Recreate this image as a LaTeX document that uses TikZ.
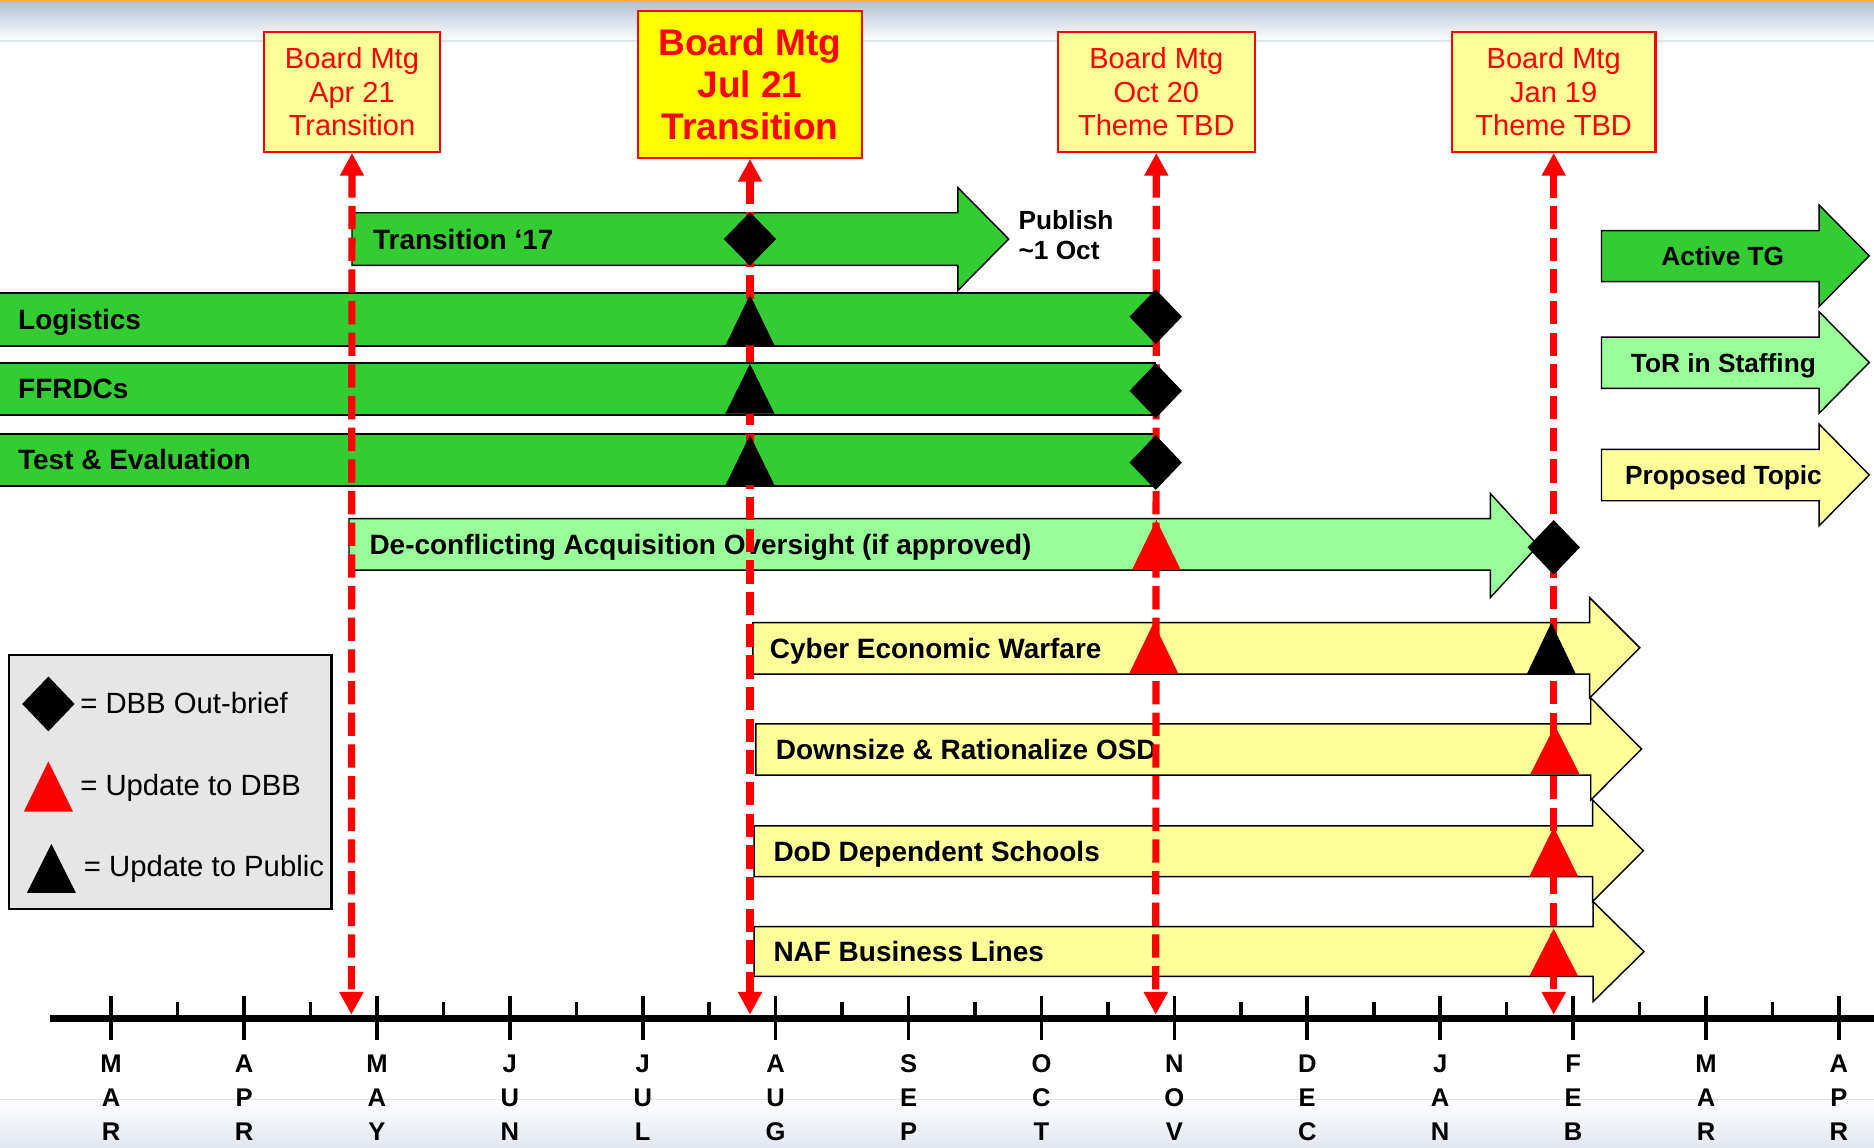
\documentclass[tikz,border=0pt]{standalone}
\usepackage{fontspec}
\setmainfont{Liberation Sans}
\usetikzlibrary{arrows.meta,shapes.geometric}
\definecolor{tgGreen}{HTML}{33CC33}
\definecolor{tgLight}{HTML}{99FF99}
\definecolor{tgYellow}{HTML}{FFFF99}
\definecolor{tgBright}{HTML}{FFFF00}
\definecolor{tgGray}{HTML}{E6E6E6}
\definecolor{tgOrange}{HTML}{F2B43C}
\definecolor{tgBand}{HTML}{B4C4D7}
\definecolor{tgLine}{HTML}{DCE6F0}
\definecolor{tgBot}{HTML}{E1E6F0}
% block arrow: fill, x left, x head back, x tip, y body top, y body bottom, y head top, y head bottom
\newcommand{\blockarrow}[8]{%
  \filldraw[fill=#1, draw=black, line width=1.2pt] (#2,#5) -- (#3,#5) -- (#3,#7) -- (#4,{(#7+#8)/2}) -- (#3,#8) -- (#3,#6) -- (#2,#6) -- cycle;}
% open-left bar: y top, x right, y bottom
\newcommand{\tgbar}[3]{%
  \fill[tgGreen] (0,#1) rectangle (#2,#3);
  \draw[line width=1.6pt] (0,#1) -- (#2,#1) -- (#2,#3) -- (0,#3);}
% triangle marker: colour, x centre, y apex, y base
\newcommand{\tgtri}[4]{%
  \fill[#1] ({#2-20.5},#4) -- (#2,#3) -- ({#2+20.5},#4) -- cycle;}
\tikzset{
  mtg/.style={draw=red, line width=2pt, fill=tgYellow, text=red, align=center, inner sep=0pt,
    font=\fontsize{24.3}{28}\selectfont},
  lbl/.style={anchor=west, inner sep=0pt, font=\fontsize{23.4}{28}\selectfont\bfseries,
    text height=16.75pt, text depth=0pt},
  lgl/.style={inner sep=0pt, font=\fontsize{22}{26}\selectfont\bfseries,
    text height=15.75pt, text depth=0pt},
  keytext/.style={anchor=west, inner sep=0pt, font=\fontsize{24.5}{28}\selectfont,
    text height=17.5pt, text depth=0pt},
  dmd/.style={diamond, fill=black, inner sep=0pt, minimum width=44pt, minimum height=46pt},
  mline/.style={red, line width=6pt, dash pattern=on 19.5pt off 7pt,
    arrows={Triangle[length=19pt,width=19pt]-Triangle[length=19pt,width=19pt]}},
  mon/.style={align=center, inner sep=0pt, font=\fontsize{21.4}{28.5}\selectfont\bfseries},
}
\begin{document}
\begin{tikzpicture}[x=1pt,y=-1pt]
\useasboundingbox (0,0) rectangle (1568,960);
% background bands
\fill[tgOrange] (0,0) rectangle (1568,2.5);
\shade[top color=tgBand, bottom color=white!96!tgBand] (0,2.5) rectangle (1568,33);
\draw[tgLine, line width=1.5pt] (0,34) -- (1568,34);
\shade[top color=white!97!tgBot, bottom color=tgBot] (0,920.5) rectangle (1568,960);
\draw[tgLine, line width=1.2pt] (0,920) -- (1568,920);

% board meeting boxes
\node[mtg, minimum width=147pt, minimum height=100pt] (b1) at (294.5,77) {Board Mtg\\Apr 21\\Transition};
\node[mtg, fill=tgBright, minimum width=187pt, minimum height=123pt,
  font=\fontsize{31}{35.5}\selectfont\bfseries] (b2) at (627.5,70.5) {Board Mtg\\Jul 21\\Transition};
\node[mtg, minimum width=165pt, minimum height=100pt] (b3) at (967.5,77) {Board Mtg\\Oct 20\\Theme TBD};
\node[mtg, minimum width=170pt, minimum height=100pt] (b4) at (1300,77) {Board Mtg\\Jan 19\\Theme TBD};

% task group arrows and bars
\blockarrow{tgGreen}{294.5}{801.5}{844}{178}{222}{157}{243}
\node[lbl] (t1) at (312,200) {Transition \textquoteleft 17};
\node[anchor=west, align=left, inner sep=0pt, font=\fontsize{22}{25}\selectfont\bfseries] (pub) at (852,196.5) {Publish\\\textasciitilde 1 Oct};

\tgbar{245.4}{966.6}{289.2}
\node[lbl] (t2) at (15,267.3) {Logistics};
\tgbar{303.4}{966.6}{347.2}
\node[lbl] (t3) at (15,325.3) {FFRDCs};
\tgbar{363.1}{966.6}{406.6}
\node[lbl] (t4) at (15,384.8) {Test \& Evaluation};

\blockarrow{tgLight}{292}{1247}{1287}{434}{477}{413}{500}
\node[lbl] (t5) at (309,455.5) {De-conflicting Acquisition Oversight (if approved)};

\blockarrow{tgYellow}{630}{1330}{1372}{521}{564}{500}{584}
\node[lbl] (t6) at (644,542.5) {Cyber Economic Warfare};
\blockarrow{tgYellow}{632.5}{1331}{1373.5}{605.6}{648.5}{584}{669.4}
\node[lbl] (t7) at (649,627) {Downsize \& Rationalize OSD};
\blockarrow{tgYellow}{631}{1332.5}{1375}{691}{733.5}{669.4}{754.4}
\node[lbl] (t8) at (647,712.3) {DoD Dependent Schools};
\blockarrow{tgYellow}{631}{1333}{1375.5}{775.3}{817}{754.4}{838}
\node[lbl] (t9) at (647,796) {NAF Business Lines};

% status key arrows
\blockarrow{tgGreen}{1340}{1522}{1564}{193}{235.7}{171.5}{256.6}
\node[lgl] (k1) at (1441.5,214.3) {Active TG};
\blockarrow{tgLight}{1340}{1522}{1564}{282}{325}{260.8}{345.8}
\node[lgl] (k2) at (1442,303.5) {ToR in Staffing};
\blockarrow{tgYellow}{1340}{1522}{1564}{376}{419}{354.8}{440}
\node[lgl] (k3) at (1442,397.5) {Proposed Topic};

% marker legend
\filldraw[fill=tgGray, draw=black, line width=2pt] (7.5,548) rectangle (277.5,760.5);
\node[dmd] (ld) at (40.5,589) {};
\node[keytext] (l1) at (67,588) {= DBB Out-brief};
\tgtri{red}{40.5}{637}{679}
\node[keytext] (l2) at (67,657) {= Update to DBB};
\tgtri{black}{43}{706}{747}
\node[keytext] (l3) at (70,725) {= Update to Public};

% meeting lines
\coordinate (e1) at (294,849);
\coordinate (e2) at (627.5,849);
\coordinate (e3) at (967,849);
\coordinate (e4) at (1300,849);
\draw[mline] (b1.south) -- (e1);
\draw[mline] (b2.south) -- (e2);
\draw[mline] (b3.south) -- (e3);
\draw[mline] (b4.south) -- (e4);

% markers
\node[dmd, minimum height=45pt] (d1) at (627.5,200) {};
\tgtri{black}{627.5}{246.5}{289}
\tgtri{black}{627.5}{304.5}{346}
\tgtri{black}{627.5}{364}{406}
\node[dmd] (d2) at (967,265) {};
\node[dmd] (d3) at (967,327) {};
\node[dmd] (d4) at (967,387) {};
\tgtri{red}{967.5}{435}{477}
\node[dmd] (d5) at (1300,458) {};
\tgtri{red}{965.3}{521}{563.5}
\tgtri{black}{1298}{521}{564}
\tgtri{red}{1301}{607}{647.5}
\tgtri{red}{1300}{692}{733.5}
\tgtri{red}{1300}{777}{817}

% time axis
\draw[line width=5.5pt] (42,852) -- (1568,852);
\foreach \i in {0,...,13} \draw[line width=3pt] ({93+111.2*\i},833) -- ({93+111.2*\i},870);
\foreach \i in {0,...,12} \draw[line width=3pt] ({148.6+111.2*\i},838) -- ({148.6+111.2*\i},852);
\foreach \i/\a/\b/\c in {0/M/A/R,1/A/P/R,2/M/A/Y,3/J/U/N,4/J/U/L,5/A/U/G,6/S/E/P,7/O/C/T,8/N/O/V,9/D/E/C,10/J/A/N,11/F/E/B,12/M/A/R,13/A/P/R}
  \node[mon] (m\i) at ({93+111.2*\i},918.5) {\a\\\b\\\c};
\end{tikzpicture}
\end{document}
